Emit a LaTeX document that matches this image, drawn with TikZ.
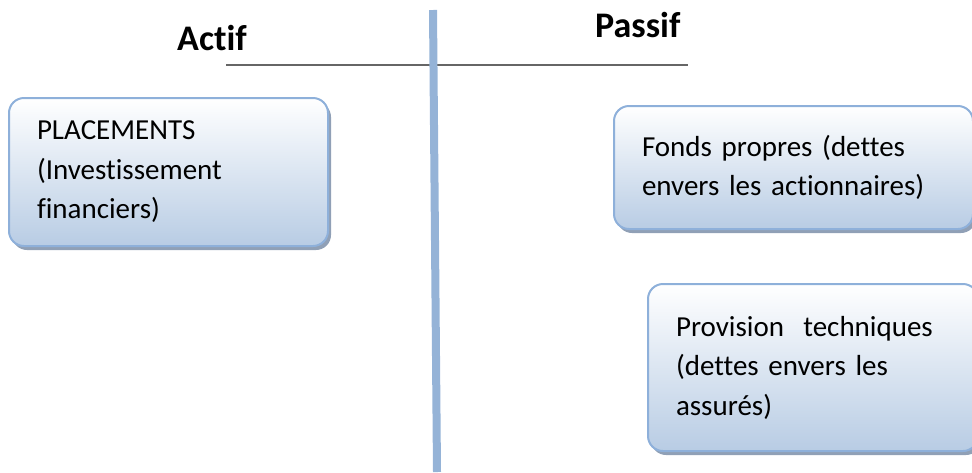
\documentclass[tikz,border=0pt]{standalone}
\usepackage{fontspec}
\setmainfont{Carlito}[Ligatures={NoCommon}]
\usetikzlibrary{shadows}
\definecolor{vline}{HTML}{95B3D7}
\definecolor{hline}{HTML}{666666}
\definecolor{boxdraw}{HTML}{8EB0DA}
\definecolor{boxbot}{HTML}{B8CCE4}
\definecolor{boxshadow}{HTML}{8496AE}
\tikzset{
  bluebox/.style={draw=boxdraw, line width=2pt, rounded corners=15pt,
    top color=white, bottom color=boxbot, anchor=north west,
    inner xsep=28pt, inner ysep=0pt, align=left,
    font=\fontsize{29}{39.5}\selectfont,
    drop shadow={shadow xshift=3pt, shadow yshift=-4pt, fill=boxshadow, opacity=0.9}},
  title/.style={font=\fontsize{36}{40}\selectfont\bfseries, inner sep=0pt, anchor=base west}
}
\begin{document}
\begin{tikzpicture}[x=1pt,y=-1pt]
\useasboundingbox (0,0) rectangle (972,472);
\coordinate (vtop) at (433,10);
\coordinate (vbot) at (437,472);
\coordinate (hl) at (226,65);
\coordinate (hr) at (688,65);
\draw[hline, line width=2.5pt] (hl) -- (hr);
\draw[vline, line width=8pt] (vtop) -- (vbot);
\node[title] (actif) at (177,50) {Actif};
\node[title] (passif) at (595,37) {Passif};
\node[bluebox, minimum width=319pt, minimum height=148pt, text width=263pt] (placements) at (8,97)
  {PLACEMENTS\\(Investissement\\financiers)};
\node[bluebox, minimum width=359pt, minimum height=123pt, text width=303pt] (fonds) at (613,105)
  {Fonds propres (dettes\\envers les actionnaires)};
\node[bluebox, minimum width=330pt, minimum height=167pt, text width=274pt] (provision) at (647,283)
  {Provision\ \ techniques\\(dettes envers les\\assurés)};
\end{tikzpicture}
\end{document}
